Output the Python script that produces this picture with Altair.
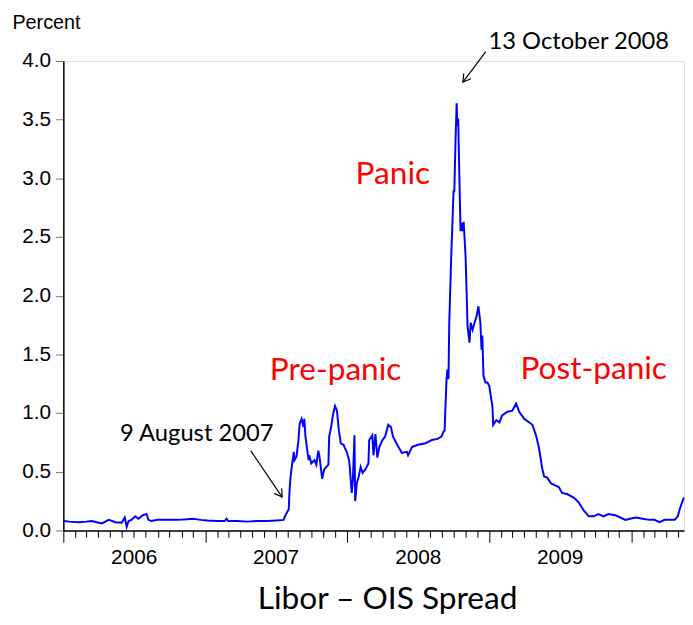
import altair as alt
import pandas as pd

# ---- data ----
dates = [
    "2006-01-02", "2006-01-16", "2006-02-10", "2006-03-01", "2006-03-15", "2006-04-10",
    "2006-04-28", "2006-05-15", "2006-05-31", "2006-06-08", "2006-06-13", "2006-06-18",
    "2006-06-25", "2006-07-05", "2006-07-13", "2006-07-25", "2006-08-03", "2006-08-08",
    "2006-08-15", "2006-09-01", "2006-09-20", "2006-10-23", "2006-11-15", "2006-11-30",
    "2006-12-21", "2007-01-07", "2007-02-01", "2007-02-20", "2007-02-25", "2007-03-01",
    "2007-03-25", "2007-04-20", "2007-05-15", "2007-06-10", "2007-07-04", "2007-07-22",
    "2007-07-25", "2007-08-04", "2007-08-06", "2007-08-09", "2007-08-14", "2007-08-17",
    "2007-08-19", "2007-08-24", "2007-08-29", "2007-09-01", "2007-09-06", "2007-09-11",
    "2007-09-13", "2007-09-16", "2007-09-24", "2007-09-26", "2007-10-01", "2007-10-09",
    "2007-10-14", "2007-10-19", "2007-10-22", "2007-10-29", "2007-11-03", "2007-11-14",
    "2007-11-16", "2007-11-21", "2007-11-26", "2007-12-01", "2007-12-06", "2007-12-11",
    "2007-12-16", "2007-12-23", "2008-01-01", "2008-01-06", "2008-01-08", "2008-01-13",
    "2008-01-16", "2008-01-20", "2008-01-22", "2008-01-26", "2008-01-31", "2008-02-05",
    "2008-02-10", "2008-02-17", "2008-02-25", "2008-02-27", "2008-03-06", "2008-03-09",
    "2008-03-14", "2008-03-19", "2008-03-24", "2008-04-01", "2008-04-08", "2008-04-16",
    "2008-04-23", "2008-04-28", "2008-05-09", "2008-05-21", "2008-06-03", "2008-06-06",
    "2008-06-16", "2008-07-01", "2008-07-19", "2008-08-06", "2008-08-21", "2008-08-31",
    "2008-09-05", "2008-09-08", "2008-09-10", "2008-09-13", "2008-09-15", "2008-09-18",
    "2008-09-20", "2008-09-25", "2008-09-28", "2008-10-01", "2008-10-03", "2008-10-06",
    "2008-10-09", "2008-10-11", "2008-10-13", "2008-10-15", "2008-10-19", "2008-10-22",
    "2008-10-24", "2008-10-27", "2008-11-01", "2008-11-04", "2008-11-06", "2008-11-11",
    "2008-11-14", "2008-11-19", "2008-11-24", "2008-11-29", "2008-12-04", "2008-12-09",
    "2008-12-12", "2008-12-14", "2008-12-17", "2008-12-22", "2008-12-27", "2009-01-01",
    "2009-01-06", "2009-01-09", "2009-01-11", "2009-01-19", "2009-01-27", "2009-02-03",
    "2009-02-16", "2009-03-01", "2009-03-11", "2009-03-19", "2009-04-01", "2009-04-14",
    "2009-04-22", "2009-05-02", "2009-05-09", "2009-05-17", "2009-05-22", "2009-05-30",
    "2009-06-09", "2009-06-22", "2009-06-29", "2009-07-07", "2009-07-20", "2009-08-06",
    "2009-08-19", "2009-09-01", "2009-09-14", "2009-09-26", "2009-10-09", "2009-10-22",
    "2009-11-03", "2009-11-21", "2009-12-04", "2009-12-17", "2009-12-29", "2010-01-13",
    "2010-01-30", "2010-02-17", "2010-03-02", "2010-03-15", "2010-03-28", "2010-04-10",
    "2010-04-23", "2010-05-01", "2010-05-06", "2010-05-13", "2010-05-17",
]
spread = [
    0.08, 0.075, 0.07, 0.075, 0.08, 0.06,
    0.09, 0.07, 0.065, 0.11, 0.03, 0.08,
    0.09, 0.12, 0.10, 0.13, 0.14, 0.09,
    0.08, 0.09, 0.09, 0.09, 0.095, 0.10,
    0.09, 0.085, 0.08, 0.08, 0.10, 0.08,
    0.08, 0.075, 0.08, 0.08, 0.085, 0.09,
    0.12, 0.18, 0.34, 0.47, 0.60, 0.67,
    0.60, 0.63, 0.77, 0.91, 0.95, 0.88,
    0.95, 0.80, 0.60, 0.64, 0.57, 0.60,
    0.56, 0.68, 0.63, 0.44, 0.52, 0.56,
    0.80, 0.88, 0.99, 1.06, 1.02, 0.85,
    0.74, 0.73, 0.66, 0.60, 0.54, 0.32,
    0.43, 0.81, 0.25, 0.40, 0.46, 0.54,
    0.49, 0.52, 0.57, 0.77, 0.81, 0.64,
    0.82, 0.62, 0.71, 0.77, 0.80, 0.90,
    0.88, 0.80, 0.73, 0.66, 0.67, 0.64,
    0.71, 0.73, 0.74, 0.77, 0.78, 0.80,
    0.84, 0.85, 1.04, 1.29, 1.37, 1.29,
    1.77, 2.33, 2.61, 2.89, 2.89, 3.31,
    3.64, 3.45, 3.51, 3.17, 2.55, 2.62,
    2.55, 2.63, 2.33, 1.99, 1.74, 1.60,
    1.77, 1.71, 1.77, 1.82, 1.91, 1.77,
    1.54, 1.66, 1.32, 1.26, 1.26, 1.23,
    1.12, 1.06, 0.90, 0.94, 0.92, 0.98,
    1.01, 1.02, 1.08, 1.01, 0.95, 0.92,
    0.90, 0.80, 0.70, 0.53, 0.46, 0.45,
    0.40, 0.38, 0.37, 0.32, 0.31, 0.28,
    0.24, 0.17, 0.12, 0.12, 0.14, 0.12,
    0.14, 0.13, 0.11, 0.09, 0.10, 0.11,
    0.10, 0.09, 0.09, 0.07, 0.09, 0.09,
    0.09, 0.12, 0.18, 0.25, 0.28,
]

y_ticks = [0.0, 0.5, 1.0, 1.5, 2.0, 2.5, 3.0, 3.5, 4.0]

phase_labels = ["Pre-panic", "Panic", "Post-panic"]
phase_dates = ["2007-06-16", "2008-01-23", "2009-03-22"]
phase_values = [1.28, 2.95, 1.29]

note_labels = ["9 August 2007", "13 October 2008"]
note_dates = ["2006-05-27", "2008-12-30"]
note_values = [0.76, 4.10]

arrow_start_dates = ["2007-04-28", "2008-12-23"]
arrow_start_values = [0.68, 4.08]
arrow_end_dates = ["2007-07-18", "2008-10-25"]
arrow_end_values = [0.284, 3.82]
arrow_angles = [56, 127]

domain_start = "2006-01-01"
domain_end = "2010-05-17"

# ---- tables ----
line_df = pd.DataFrame({"date": dates, "spread": spread})
phase_df = pd.DataFrame({"label": phase_labels, "date": phase_dates, "value": phase_values})
note_df = pd.DataFrame({"label": note_labels, "date": note_dates, "value": note_values})
arrow_df = pd.DataFrame({
    "d0": arrow_start_dates, "v0": arrow_start_values,
    "d1": arrow_end_dates, "v1": arrow_end_values, "ang": arrow_angles,
})


def ms(s):
    return int(pd.Timestamp(s, tz="UTC").value // 10**6)


x_scale = alt.Scale(type="utc", domain=[ms(domain_start), ms(domain_end)])
y_scale = alt.Scale(domain=[0, 4], nice=False, zero=False)

x_axis = alt.Axis(
    title=None,
    tickCount={"interval": "month", "step": 1},
    labelExpr="utcmonth(datum.value) == 6 ? utcFormat(datum.value, '%Y') : ''",
    labelOverlap=False,
    labelFlush=False,
    labelBound=False,
    tickSize={"condition": {"test": "utcmonth(datum.value) === 0", "value": 12}, "value": 7},
    tickColor="black",
    tickWidth=1,
    domainColor="black",
    domainWidth=1.5,
    labelFont="Liberation Sans",
    labelFontSize=21,
    labelColor="black",
    labelPadding=9,
    grid=False,
)
y_axis = alt.Axis(
    title="Percent",
    titleAngle=0,
    titleX=-52,
    titleY=-33,
    titleAlign="left",
    titleBaseline="alphabetic",
    titleFont="Liberation Sans",
    titleFontSize=20,
    titleFontWeight="normal",
    titleColor="black",
    values=y_ticks,
    format=".1f",
    tickSize=8,
    tickColor="#777777",
    domainColor="black",
    domainWidth=1.5,
    labelFont="Liberation Sans",
    labelFontSize=21,
    labelColor="black",
    labelPadding=5,
    grid=False,
)


def xenc(field):
    return alt.X(field, type="temporal", scale=x_scale, axis=x_axis)


def yenc(field):
    return alt.Y(field, type="quantitative", scale=y_scale, axis=y_axis)


line = alt.Chart(line_df).mark_line(color="#0000FF", strokeWidth=2).encode(
    x=xenc("date"), y=yenc("spread"),
)

phases = alt.Chart(phase_df).mark_text(
    font="Lato", fontSize=32, color="#FF0000", align="left", baseline="alphabetic"
).encode(x=xenc("date"), y=yenc("value"), text="label:N")

notes = alt.Chart(note_df).mark_text(
    font="Lato", fontSize=24, color="black", align="left", baseline="alphabetic"
).encode(x=xenc("date"), y=yenc("value"), text="label:N")

shafts = alt.Chart(arrow_df).mark_rule(color="black", strokeWidth=1.2).encode(
    x=xenc("d0"), y=yenc("v0"), x2="d1:T", y2="v1:Q"
)
heads = alt.Chart(arrow_df).mark_point(
    shape="M-1,-0.6L0,0L-1,0.6", filled=False, color="black", strokeWidth=1.2,
    size=230, opacity=1,
).encode(
    x=xenc("d1"), y=yenc("v1"),
    angle=alt.Angle("ang:Q", scale=None),
)

chart = alt.layer(line, phases, notes, shafts, heads).properties(
    width=628,
    height=475,
    autosize=alt.AutoSizeParams(type="none"),
    padding={"left": 56, "top": 50, "right": 1, "bottom": 84},
    title=alt.TitleParams(
        "Libor – OIS Spread", orient="bottom", font="Lato", fontSize=32,
        fontWeight="normal", color="black", anchor="middle", dx=14, offset=12,
    ),
).configure_view(stroke=None).configure(background="white")

chart.save("out.html", embed_options={"renderer": "svg", "actions": False})
